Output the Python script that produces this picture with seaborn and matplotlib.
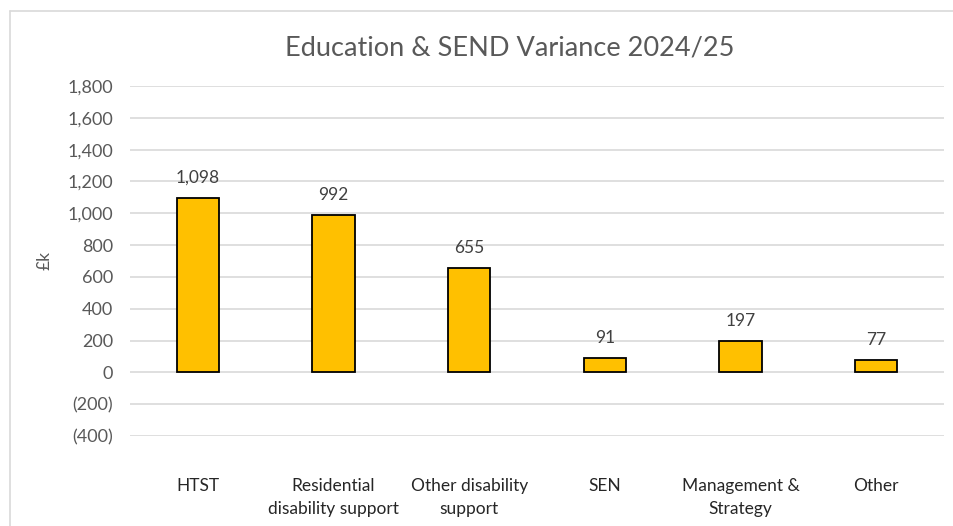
import matplotlib
matplotlib.use("Agg")
import matplotlib.pyplot as plt
from matplotlib.lines import Line2D
from matplotlib.ticker import FuncFormatter, MultipleLocator
import seaborn as sns
import pandas as pd

categories = ["HTST", "Residential\ndisability support", "Other disability\nsupport",
              "SEN", "Management &\nStrategy", "Other"]
variance_k = [1098, 992, 655, 91, 197, 77]

title = "Education & SEND Variance 2024/25"
y_label = "£k"

sns.set_theme(style="white")
plt.rcParams["font.family"] = ["Lato", "DejaVu Sans"]

W, H = 954, 526
fig = plt.figure(figsize=(W / 100, H / 100), dpi=100)
fig.patch.set_facecolor("white")

# plot area placed in pixel terms
left, right, top, bottom = 130, 944, 86, 436
ax = fig.add_axes([left / W, 1 - bottom / H, (right - left) / W, (bottom - top) / H])

df = pd.DataFrame({"category": categories, "variance": variance_k})
sns.barplot(data=df, x="category", y="variance", color="#FFC000", saturation=1,
            edgecolor="black", linewidth=1.3, width=0.31, ax=ax, zorder=3)

ax.set_ylim(-400, 1800)
ax.set_xlim(-0.5, len(categories) - 0.5)
ax.yaxis.set_major_locator(MultipleLocator(200))


def fmt(v, _pos):
    v = int(round(v))
    return f"({abs(v):,})" if v < 0 else f"{v:,}"


ax.yaxis.set_major_formatter(FuncFormatter(fmt))
ax.grid(axis="y", color="#D9D9D9", linewidth=1.2, zorder=0)
ax.grid(axis="x", visible=False)
for s in ax.spines.values():
    s.set_visible(False)

ax.tick_params(axis="y", length=0, pad=12, labelsize=13, labelcolor="#595959")
ax.tick_params(axis="x", length=0, pad=30, labelsize=12.5, labelcolor="#262626")
for lbl in ax.get_xticklabels():
    lbl.set_linespacing(1.6)

ax.set_xlabel("")
ax.set_ylabel(y_label, fontsize=12.5, color="#595959")
ax.yaxis.set_label_coords(-77 / (right - left), 0.5)

# value labels above each bar
for i, v in enumerate(variance_k):
    ax.annotate(f"{v:,}", xy=(i, v), xytext=(0, 12), textcoords="offset pixels",
                ha="center", va="bottom", fontsize=12.5, color="#404040")

fig.text(510 / W, 1 - 48 / H, title, ha="center", va="center",
         fontsize=19.5, color="#595959")

# chart frame
fig.add_artist(Line2D([10.5 / W, 10.5 / W], [0, 1 - 10.5 / H], color="#D9D9D9",
                      linewidth=1.2, transform=fig.transFigure))
fig.add_artist(Line2D([10.5 / W, 1], [1 - 10.5 / H, 1 - 10.5 / H], color="#D9D9D9",
                      linewidth=1.2, transform=fig.transFigure))

fig.savefig("out.png", dpi=100, facecolor="white")
